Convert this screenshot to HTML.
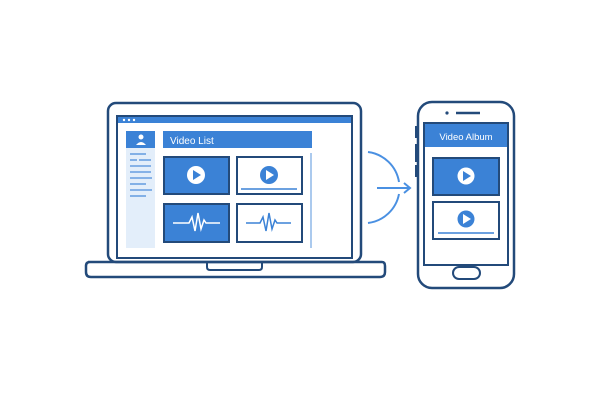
<!DOCTYPE html>
<html><head><style>body{margin:0;background:#fff}svg{display:block}</style></head><body>
<svg width="600" height="400" viewBox="0 0 600 400" xmlns="http://www.w3.org/2000/svg">
<rect width="600" height="400" fill="#fff"/>
<g fill="none" stroke="#234a7a" stroke-width="2.5">
<rect x="108" y="103" width="253" height="159" rx="8"/>
<rect x="117" y="116" width="235" height="142" stroke-width="2"/>
<path d="M88 262 H382 Q385 262 385 266 V272 Q385 277 380 277 H91 Q86 277 86 272 V266 Q86 262 90 262 Z"/>
<path d="M207 262 V267 Q207 270 210 270 H259 Q262 270 262 267 V262" stroke-width="2"/>
</g>
<rect x="118" y="117" width="233" height="6" fill="#3b82d6"/>
<circle cx="124" cy="120" r="1.2" fill="#fff"/><circle cx="129" cy="120" r="1.2" fill="#fff"/><circle cx="134" cy="120" r="1.2" fill="#fff"/>
<rect x="126" y="131" width="29" height="117" fill="#e3eefa"/>
<rect x="126" y="131" width="29" height="17" fill="#3b82d6"/>
<circle cx="141" cy="137" r="2.5" fill="#fff"/><path d="M136 145 Q141 139 146 145 Z" fill="#fff"/>
<g stroke="#4f8fdc" stroke-width="1.3">
<line x1="130" y1="154" x2="146" y2="154"/><line x1="130" y1="160" x2="137" y2="160"/><line x1="139" y1="160" x2="151" y2="160"/>
<line x1="130" y1="166" x2="151" y2="166"/><line x1="130" y1="172" x2="151" y2="172"/><line x1="130" y1="178" x2="152" y2="178"/>
<line x1="130" y1="184" x2="146" y2="184"/><line x1="130" y1="190" x2="152" y2="190"/><line x1="130" y1="196" x2="146" y2="196"/>
</g>
<rect x="163" y="131" width="149" height="17" fill="#3b82d6"/>
<text x="170" y="144" font-family="Liberation Sans, sans-serif" font-size="10" fill="#fff">Video List</text>
<line x1="311" y1="153" x2="311" y2="248" stroke="#8fb8e8" stroke-width="1.5"/>
<g stroke="#234a7a" stroke-width="2">
<rect x="164" y="157" width="65" height="37" fill="#3b82d6"/>
<rect x="237" y="157" width="65" height="37" fill="#fff"/>
<rect x="164" y="204" width="65" height="38" fill="#3b82d6"/>
<rect x="237" y="204" width="65" height="38" fill="#fff"/>
</g>
<circle cx="196" cy="175" r="9" fill="#fff"/><path d="M193 170 L201 175 L193 180 Z" fill="#3b82d6"/>
<circle cx="269" cy="175" r="9" fill="#3b82d6"/><path d="M266 170 L274 175 L266 180 Z" fill="#fff"/>
<line x1="241" y1="189" x2="297" y2="189" stroke="#3b82d6" stroke-width="1.5"/>
<path d="M173 223 H189 L192 217 L195 231 L198 213 L201 229 L204 220 L206 223 H220" fill="none" stroke="#fff" stroke-width="1.5"/>
<path d="M246 223 H260 L263 217 L266 231 L269 213 L272 229 L275 220 L277 223 H291" fill="none" stroke="#3b82d6" stroke-width="1.5"/>
<g fill="none" stroke="#4a90e2" stroke-width="2">
<path d="M368 152 A36 36 0 0 1 399 182"/>
<path d="M399 194 A36 36 0 0 1 368 223"/>
<path d="M377 188 H410 M404 183 L410 188 L404 193"/>
</g>
<g fill="none" stroke="#234a7a" stroke-width="2.5">
<rect x="418" y="102" width="96" height="186" rx="14"/>
<rect x="424" y="123" width="84" height="142" stroke-width="2"/>
<rect x="453" y="267" width="27" height="12" rx="6" stroke-width="2"/>
<line x1="456" y1="113" x2="480" y2="113"/>
</g>
<circle cx="447" cy="113" r="1.6" fill="#234a7a"/>
<rect x="415" y="126" width="3" height="12" fill="#234a7a"/><rect x="415" y="144" width="3" height="18" fill="#234a7a"/><rect x="415" y="165" width="3" height="12" fill="#234a7a"/>
<rect x="425" y="124" width="82" height="23" fill="#3b82d6"/>
<text x="466" y="140" text-anchor="middle" font-family="Liberation Sans, sans-serif" font-size="9.5" fill="#fff">Video Album</text>
<rect x="433" y="158" width="66" height="37" fill="#3b82d6" stroke="#234a7a" stroke-width="2"/>
<rect x="433" y="202" width="66" height="37" fill="#fff" stroke="#234a7a" stroke-width="2"/>
<circle cx="466" cy="176" r="8.5" fill="#fff"/><path d="M463 171 L471 176 L463 181 Z" fill="#3b82d6"/>
<circle cx="466" cy="219" r="8.5" fill="#3b82d6"/><path d="M463 214 L471 219 L463 224 Z" fill="#fff"/>
<line x1="438" y1="233" x2="494" y2="233" stroke="#3b82d6" stroke-width="1.5"/>
</svg>
</body></html>
